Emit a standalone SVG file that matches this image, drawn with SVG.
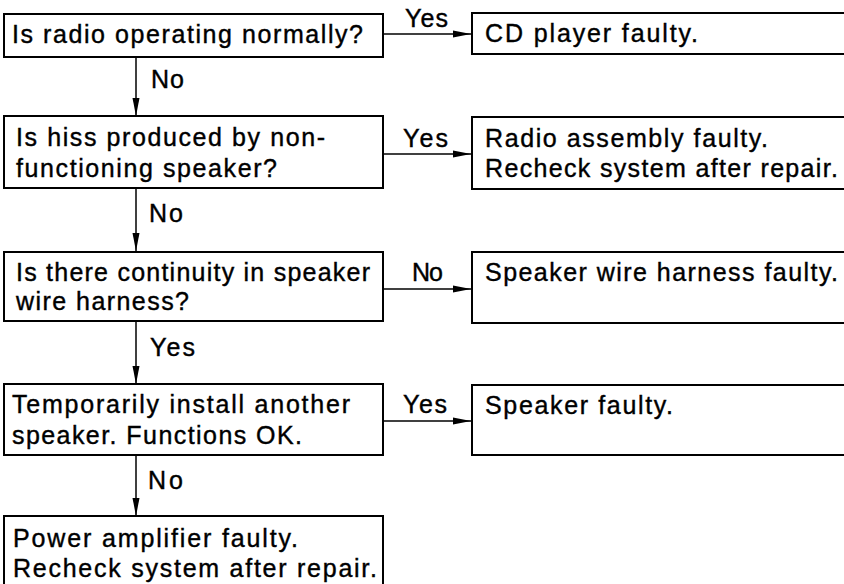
<svg xmlns="http://www.w3.org/2000/svg" width="844" height="584" viewBox="0 0 844 584">
<style>
.box{fill:#fff;stroke:#000;stroke-width:2}
.t{font-family:"Liberation Sans",Arial,sans-serif;font-size:25px;fill:#000;stroke:#000;stroke-width:0.4}
.c{stroke:#000;stroke-width:1.5;fill:none}
</style>
<defs>
<marker id="ah" markerUnits="userSpaceOnUse" markerWidth="20" markerHeight="10" refX="18" refY="4" orient="auto">
<path d="M0,0.5 L18,4 L0,7.5 Z" fill="#000"/>
</marker>
</defs>
<rect width="844" height="584" fill="#fff"/>
<g id="connectors">
<line class="c" x1="384" y1="34" x2="471" y2="34" marker-end="url(#ah)"/>
<line class="c" x1="136" y1="57" x2="136" y2="116" marker-end="url(#ah)"/>
<line class="c" x1="384" y1="154" x2="471" y2="154" marker-end="url(#ah)"/>
<line class="c" x1="136" y1="188" x2="136" y2="251" marker-end="url(#ah)"/>
<line class="c" x1="384" y1="289" x2="471" y2="289" marker-end="url(#ah)"/>
<line class="c" x1="136" y1="321" x2="136" y2="384" marker-end="url(#ah)"/>
<line class="c" x1="384" y1="421" x2="471" y2="421" marker-end="url(#ah)"/>
<line class="c" x1="136" y1="455" x2="136" y2="516" marker-end="url(#ah)"/>
<text class="t" x="405" y="27" textLength="43">Yes</text>
<text class="t" x="151" y="88" textLength="33">No</text>
<text class="t" x="403" y="147" textLength="45">Yes</text>
<text class="t" x="149" y="222" textLength="34">No</text>
<text class="t" x="412" y="281" textLength="31">No</text>
<text class="t" x="150" y="356" textLength="45">Yes</text>
<text class="t" x="403" y="413" textLength="44">Yes</text>
<text class="t" x="148" y="489" textLength="35">No</text>
</g>
<g id="q1">
<rect class="box" x="4" y="14" width="379" height="43"/>
<text class="t" x="12" y="43" textLength="351">Is radio operating normally?</text>
</g>
<g id="r1">
<rect class="box" x="472" y="13" width="380" height="41"/>
<text class="t" x="485" y="42" textLength="213">CD player faulty.</text>
</g>
<g id="q2">
<rect class="box" x="4" y="116" width="379" height="72"/>
<text class="t" x="16" y="146" textLength="309">Is hiss produced by non-</text>
<text class="t" x="16" y="177" textLength="261">functioning speaker?</text>
</g>
<g id="r2">
<rect class="box" x="472" y="117" width="380" height="72"/>
<text class="t" x="485" y="147" textLength="283">Radio assembly faulty.</text>
<text class="t" x="485" y="177" textLength="353">Recheck system after repair.</text>
</g>
<g id="q3">
<rect class="box" x="4" y="252" width="379" height="69"/>
<text class="t" x="16" y="281" textLength="354">Is there continuity in speaker</text>
<text class="t" x="16" y="310" textLength="173">wire harness?</text>
</g>
<g id="r3">
<rect class="box" x="472" y="252" width="380" height="71"/>
<text class="t" x="485" y="281" textLength="353">Speaker wire harness faulty.</text>
</g>
<g id="q4">
<rect class="box" x="4" y="384" width="379" height="71"/>
<text class="t" x="12" y="413" textLength="338">Temporarily install another</text>
<text class="t" x="12" y="444" textLength="290">speaker. Functions OK.</text>
</g>
<g id="r4">
<rect class="box" x="472" y="385" width="380" height="70"/>
<text class="t" x="485" y="414" textLength="188">Speaker faulty.</text>
</g>
<g id="r5">
<rect class="box" x="4" y="516" width="379" height="80"/>
<text class="t" x="13" y="547" textLength="285">Power amplifier faulty.</text>
<text class="t" x="13" y="577" textLength="364">Recheck system after repair.</text>
</g>
</svg>
